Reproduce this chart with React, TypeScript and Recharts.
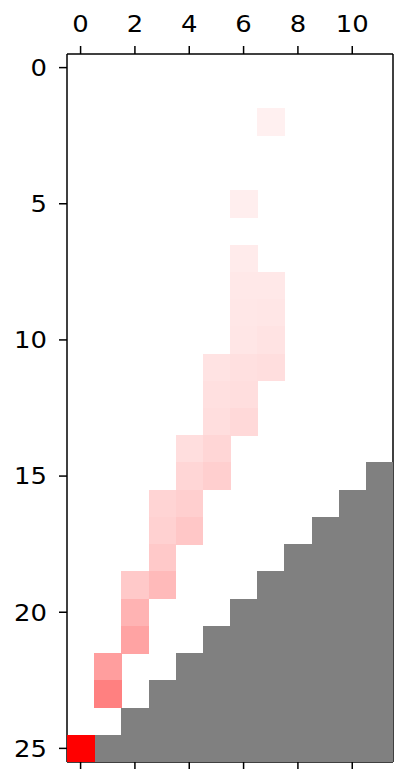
import React from "react";
import { ScatterChart, Scatter, XAxis, YAxis } from "recharts";

// Grid size
const nCols = 12;
const nRows = 26;

// Tick labels
const xTicks = [0, 2, 4, 6, 8, 10];
const yTicks = [0, 5, 10, 15, 20, 25];

// Coloured (non-zero) cells: row, column, value (0..1)
const cellRows = [2, 5, 7, 8, 8, 9, 9, 10, 10, 11, 11, 11, 12, 12, 13, 13, 14, 14, 15, 15, 16, 16, 17, 17, 18, 19, 19, 20, 21, 22, 23, 25];
const cellCols = [7, 6, 6, 6, 7, 6, 7, 6, 7, 5, 6, 7, 5, 6, 5, 6, 4, 5, 4, 5, 3, 4, 3, 4, 3, 2, 3, 2, 2, 1, 1, 0];
const cellValues = [0.06, 0.065, 0.08, 0.09, 0.09, 0.095, 0.1, 0.1, 0.11, 0.11, 0.12, 0.13, 0.12, 0.13, 0.13, 0.15, 0.13, 0.16, 0.16, 0.19, 0.17, 0.19, 0.18, 0.22, 0.21, 0.21, 0.27, 0.3, 0.36, 0.38, 0.5, 1.0];

// Masked (grey) region: for each of these rows, columns from maskFrom to the end
const maskRows = [15, 16, 17, 18, 19, 20, 21, 22, 23, 24, 25];
const maskFrom = [11, 10, 9, 8, 7, 6, 5, 4, 3, 2, 1];

type Cell = { x: number; y: number; v: number; masked: boolean };

const cells: Cell[] = [];
maskRows.forEach((r, i) => {
  for (let c = maskFrom[i]; c < nCols; c++) cells.push({ x: c, y: r, v: 0, masked: true });
});
cellRows.forEach((r, i) => {
  cells.push({ x: cellCols[i], y: r, v: cellValues[i], masked: false });
});

// Layout
const W = 401;
const H = 769;
const LEFT = 67;
const TOP = 54;
const RIGHT = 8;
const BOTTOM = 7;
const plotW = W - LEFT - RIGHT;
const plotH = H - TOP - BOTTOM;
const cellW = plotW / nCols;
const cellH = plotH / nRows;

const colorFor = (v: number) => {
  const g = Math.round(255 * (1 - v));
  return `rgb(255,${g},${g})`;
};

const CellShape = (props: any) => {
  const { cx, cy, payload } = props;
  if (cx == null || cy == null) return null;
  const fill = payload.masked ? "#808080" : colorFor(payload.v);
  return (
    <rect
      x={cx - cellW / 2}
      y={cy - cellH / 2}
      width={cellW + 0.6}
      height={cellH + 0.6}
      fill={fill}
      stroke="none"
      shapeRendering="crispEdges"
    />
  );
};

const FONT_SIZE = 22.5;
const STRETCH = 1.15;

const TopTick = (props: any) => {
  const { x, y, payload } = props;
  return (
    <g transform={`translate(${x},${y}) scale(${STRETCH},1)`}>
      <text x={0} y={0} textAnchor="middle" fontFamily="DejaVu Sans" fontSize={FONT_SIZE} fill="#000">
        {payload.value}
      </text>
    </g>
  );
};

const LeftTick = (props: any) => {
  const { x, y, payload } = props;
  return (
    <g transform={`translate(${x},${y}) scale(${STRETCH},1)`}>
      <text x={0} y={FONT_SIZE * 0.37} textAnchor="end" fontFamily="DejaVu Sans" fontSize={FONT_SIZE} fill="#000">
        {payload.value}
      </text>
    </g>
  );
};

const line = { stroke: "#000", strokeWidth: 1.5 };

export default function App() {
  return (
    <div style={{ position: "absolute", left: 0, top: 0, width: W, height: H, background: "#fff" }}>
      <ScatterChart width={W} height={H} margin={{ top: 0, left: 0, right: 0, bottom: 0 }} style={{ overflow: "visible" }}>
        <XAxis
          xAxisId="top"
          orientation="top"
          type="number"
          dataKey="x"
          domain={[-0.5, nCols - 0.5]}
          ticks={xTicks}
          allowDataOverflow
          height={TOP}
          tickSize={8}
          tickMargin={14}
          tick={<TopTick />}
          axisLine={line}
          tickLine={line}
          interval={0}
        />
        <XAxis
          xAxisId="bottom"
          orientation="bottom"
          type="number"
          dataKey="x"
          domain={[-0.5, nCols - 0.5]}
          ticks={xTicks}
          allowDataOverflow
          height={BOTTOM}
          tickSize={8}
          tickFormatter={() => ""}
          axisLine={line}
          tickLine={{ stroke: "#000", strokeWidth: 1.5 }}
          interval={0}
        />
        <YAxis
          yAxisId="left"
          type="number"
          dataKey="y"
          domain={[-0.5, nRows - 0.5]}
          reversed
          ticks={yTicks}
          allowDataOverflow
          width={LEFT}
          tickSize={8}
          tickMargin={12}
          tick={<LeftTick />}
          axisLine={line}
          tickLine={line}
          interval={0}
        />
        <YAxis
          yAxisId="right"
          orientation="right"
          type="number"
          dataKey="y"
          domain={[-0.5, nRows - 0.5]}
          reversed
          allowDataOverflow
          width={RIGHT}
          tick={false}
          tickLine={false}
          axisLine={line}
        />
        <Scatter
          xAxisId="top"
          yAxisId="left"
          data={cells}
          shape={CellShape}
          isAnimationActive={false}
        />
        <Scatter
          xAxisId="bottom"
          yAxisId="right"
          data={[]}
          isAnimationActive={false}
        />
      </ScatterChart>
    </div>
  );
}
